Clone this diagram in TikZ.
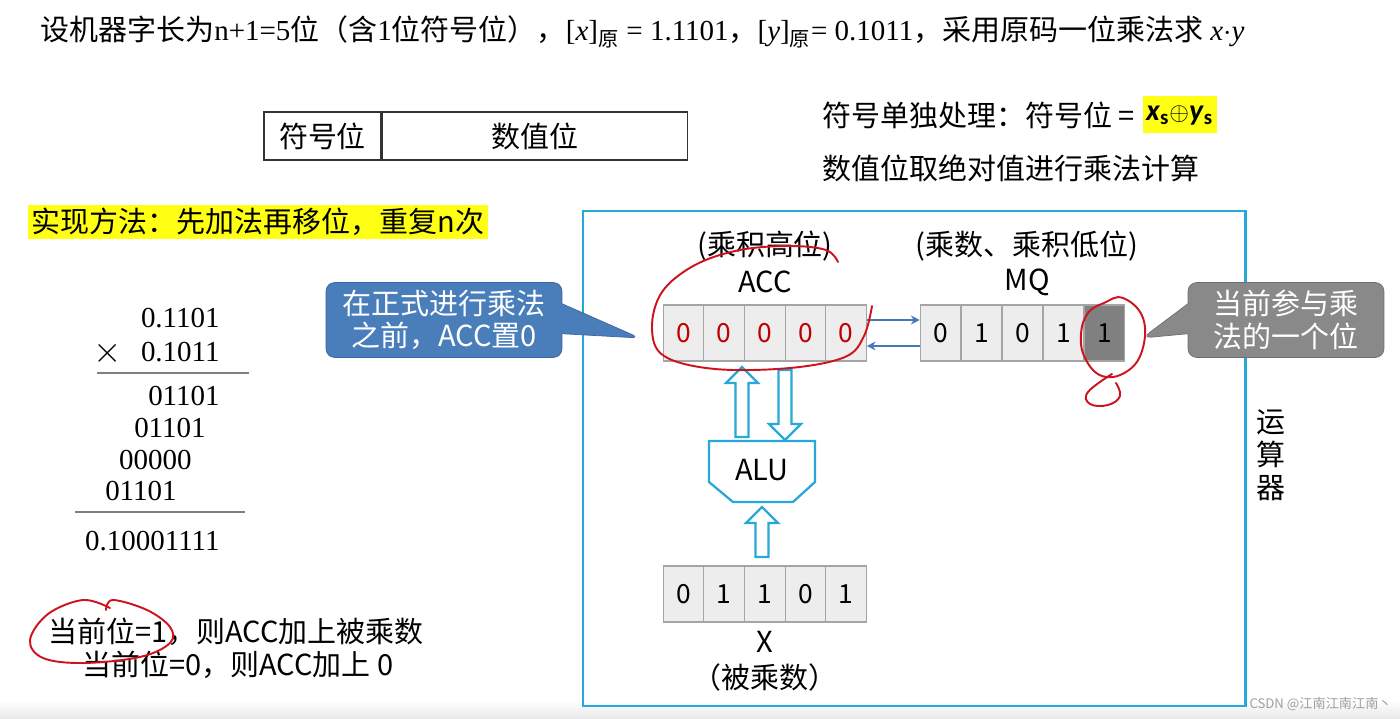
\documentclass[tikz,border=0pt]{standalone}
\usepackage{fontspec}
\setmainfont{Liberation Serif}
\newfontfamily\cjk{Noto Sans CJK SC}
\newfontfamily\latinsans{Carlito}
\usetikzlibrary{calc,positioning,arrows.meta,shapes.callouts}
\definecolor{framecyan}{RGB}{40,168,216}
\definecolor{cellfill}{RGB}{237,237,237}
\definecolor{cellline}{RGB}{165,165,165}
\definecolor{darkcell}{RGB}{128,128,128}
\definecolor{accred}{RGB}{192,0,0}
\definecolor{linkblue}{RGB}{70,120,190}
\definecolor{penred}{RGB}{205,20,30}
\definecolor{hintblue}{RGB}{74,126,187}
\definecolor{hintedge}{RGB}{60,100,160}
\definecolor{hintgray}{RGB}{137,137,137}
\definecolor{hintgrayedge}{RGB}{110,110,110}
\definecolor{marker}{RGB}{255,255,20}

\newcommand{\fatarrow}[3]{%
  \pgfmathsetmacro{\arrowbase}{#3+16*sign(#2-#3)}%
  \draw[fatline] ({#1-6.5},#2) -- ({#1-6.5},\arrowbase) -- ({#1-16},\arrowbase) -- (#1,#3)
    -- ({#1+16},\arrowbase) -- ({#1+6.5},\arrowbase) -- ({#1+6.5},#2) -- cycle;}

\begin{document}
\begin{tikzpicture}[x=0.02cm,y=-0.02cm,
  cell/.style={draw=cellline, line width=0.6pt, fill=cellfill, minimum width=0.81cm, minimum height=1.12cm, inner sep=0pt, font=\cjk\fontsize{15}{18}\selectfont},
  zh/.style={font=\cjk\fontsize{16.5}{20}\selectfont, inner sep=0pt},
  serifnum/.style={font=\fontsize{16.5}{19}\selectfont, inner sep=0pt, anchor=east},
  fatline/.style={draw=framecyan, line width=1.3pt, fill=white, line join=miter},
  linkarrow/.style={draw=linkblue, line width=0.8pt, -{Stealth[length=5pt,width=5pt]}},
  redpen/.style={draw=penred, line width=1.1pt, line cap=round},
  callbox/.style={rectangle callout, rounded corners=5pt, text=white, align=center, callout pointer width=0.6cm, font=\cjk\fontsize{16.5}{18.5}\selectfont, inner sep=0pt, minimum height=1.5cm}
]
\useasboundingbox (0,0) rectangle (1400,719);
\shade[top color=white, bottom color=gray!18] (0,700) rectangle (1400,719);

\node[anchor=west, inner sep=0pt, font=\fontsize{16.5}{20}\selectfont] (task) at (40,32)
  {{\cjk 设机器字长为}n+1=5{\cjk 位（含}1{\cjk 位符号位），}[\textit{x}]\textsubscript{\cjk 原} = 1.1101{\cjk ，}[\textit{y}]\textsubscript{\cjk 原}= 0.1011{\cjk ，采用原码一位乘法求} \textit{x}$\cdot$\textit{y}};

\node[zh, draw=black!80, line width=0.8pt, minimum width=2.34cm, minimum height=0.96cm] (signcell) at (322.5,136) {符号位};
\node[zh, draw=black!80, line width=0.8pt, minimum width=6.1cm, minimum height=0.96cm, anchor=west] (valuecell) at (signcell.east) {数值位};

\node[zh, anchor=west] (signrule) at (822,115) {符号单独处理：符号位 =};
\node[fill=marker, inner sep=2pt, minimum height=0.74cm, right=4pt of signrule, font=\latinsans\fontsize{17}{20}\selectfont\bfseries] (xorbox)
  {\textit{x}\textsubscript{s}{\Large$\oplus$}\textit{y}\textsubscript{s}};
\node[zh, anchor=west] (absrule) at (822,168) {数值位取绝对值进行乘法计算};

\node[zh, fill=marker, anchor=west, inner xsep=2pt, minimum height=0.7cm] (method) at (28,222) {实现方法：先加法再移位，重复n次};

\node[serifnum] (m1) at (220,318) {0.1101};
\node[serifnum] (m2) at (220,352) {0.1011};
\node[inner sep=0pt, font=\fontsize{20}{22}\selectfont] (times) at (108,353) {$\times$};
\draw[gray, line width=0.7pt] (97,373) -- (249,373);
\node[serifnum] (p1) at (220,396) {01101};
\node[serifnum] (p2) at (206,428) {01101};
\node[serifnum] (p3) at (192,460) {00000};
\node[serifnum] (p4) at (177,491) {01101};
\draw[gray, line width=0.7pt] (75,512) -- (245,512);
\node[serifnum] (prod) at (220,541) {0.10001111};

\draw[framecyan, line width=1.7pt] (583,211) rectangle (1245,706);
\node[zh, align=center, font=\cjk\fontsize{16.5}{18.7}\selectfont] (opname) at (1271,455) {运\\算\\器};

\foreach \v [count=\i] in {0,0,0,0,0}
  \node[cell, text=accred] (acc\i) at ({643+40.6*\i},333) {\v};
\foreach \v/\f [count=\i] in {0/cellfill,1/cellfill,0/cellfill,1/cellfill,1/darkcell}
  \node[cell, fill=\f] (mq\i) at ({899.5+41*\i},333) {\v};
\foreach \v [count=\i] in {0,1,1,0,1}
  \node[cell] (x\i) at ({643+40.6*\i},594) {\v};

\node[zh] (accname) at (765,282) {ACC};
\node[zh] (acchint) at (765,246) {(乘积高位)};
\node[zh] (mqname) at (1027,282) {MQ};
\node[zh] (mqhint) at (1027,246) {(乘数、乘积低位)};
\node[zh] (xname) at (765,642) {X};
\node[zh] (xhint) at (765,677) {（被乘数）};

\draw[linkarrow] ([yshift=0.26cm]acc5.east) -- ([yshift=0.26cm]mq1.west);
\draw[linkarrow] ([yshift=-0.26cm]mq1.west) -- ([yshift=-0.26cm]acc5.east);

\draw[fatline] (709,441) -- (815,441) -- (815,482) -- (793,502) -- (733,502) -- (709,482) -- cycle;
\node[zh] (alu) at (762,470) {ALU};
\fatarrow{742}{437}{367}
\fatarrow{785}{370}{440}
\fatarrow{762}{557}{507}

\node[callbox, fill=hintblue, draw=hintedge, minimum width=4.72cm, callout absolute pointer={($(acc1.west)+(-23,5)$)}] (zerohint) at (444,320) {在正式进行乘法\\之前，ACC置0};
\node[callbox, fill=hintgray, draw=hintgrayedge, minimum width=3.92cm, callout absolute pointer={($(mq5.east)+(17,5)$)}] (bithint) at (1286,320) {当前参与乘\\法的一个位};

\node[zh, anchor=west] (rule1) at (48,632) {当前位=1，则ACC加上被乘数};
\node[zh, anchor=west] (rule0) at (82,665) {当前位=0，则ACC加上 0};

\node[anchor=east, inner sep=0pt, text=gray!75, font=\cjk\fontsize{7.5}{9}\selectfont] (mark) at (1392,704) {CSDN @江南江南江南丶};

\draw[redpen] plot[smooth, tension=0.6] coordinates {(838,262) (826,250) (790,246) (740,250) (695,265) (662,292) (652,328) (664,356) (715,369) (790,368) (845,357) (864,336) (872,306)};
\draw[redpen] plot[smooth cycle, tension=0.7] coordinates {(1123,298) (1143,318) (1142,351) (1126,372) (1102,376) (1085,358) (1081,334) (1088,313) (1104,303)};
\draw[redpen] plot[smooth, tension=0.7] coordinates {(1112,374) (1088,392) (1090,404) (1108,405) (1120,396) (1116,383)};
\draw[redpen] plot[smooth, tension=0.6] coordinates {(110,608) (83,600) (48,614) (30,640) (43,658) (83,663) (140,657) (170,643) (170,627) (147,610) (113,600) (106,610)};
\end{tikzpicture}
\end{document}
